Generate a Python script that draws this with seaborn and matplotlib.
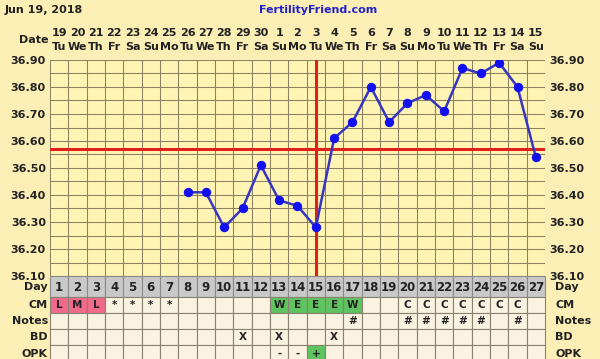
import matplotlib
matplotlib.use("Agg")
import matplotlib.pyplot as plt
import seaborn as sns
import pandas as pd
from matplotlib.patches import Rectangle

# ---- data ----
cycle_days = list(range(1, 28))
dates = [19, 20, 21, 22, 23, 24, 25, 26, 27, 28, 29, 30, 1, 2, 3, 4, 5, 6, 7, 8, 9, 10, 11, 12, 13, 14, 15]
weekdays = ["Tu", "We", "Th", "Fr", "Sa", "Su", "Mo"] * 4
temp_days = list(range(8, 28))
temps = [36.41, 36.41, 36.28, 36.35, 36.51, 36.38, 36.36, 36.28, 36.61, 36.67,
         36.80, 36.67, 36.74, 36.77, 36.71, 36.87, 36.85, 36.89, 36.80, 36.54]
coverline = 36.57
ovulation_day = 15
y_ticks = [36.10, 36.20, 36.30, 36.40, 36.50, 36.60, 36.70, 36.80, 36.90]
cm = {1: "L", 2: "M", 3: "L", 4: "*", 5: "*", 6: "*", 7: "*", 13: "W", 14: "E", 15: "E",
      16: "E", 17: "W", 20: "C", 21: "C", 22: "C", 23: "C", 24: "C", 25: "C", 26: "C"}
cm_colors = {"L": "#f06a8c", "M": "#f06a8c", "W": "#5fc35f", "E": "#5fc35f"}
notes = {17: "#", 20: "#", 21: "#", 22: "#", 23: "#", 24: "#", 26: "#"}
bd = {11: "X", 13: "X", 16: "X"}
opk = {13: "-", 14: "-", 15: "+"}
opk_colors = {"+": "#5fc35f"}
row_labels = ["Day", "CM", "Notes", "BD", "OPK"]

# ---- style ----
sns.set_style("white")
plt.rcParams["font.family"] = ["DejaVu Sans"]
outer_bg = "#fcefb6"
chart_bg = "#fff4b4"
cell_bg = "#fbf3e2"
grid_c = "#8a8260"
fs = 7.5

W, H = 600, 359
fig = plt.figure(figsize=(6, 3.59), dpi=100)
fig.patch.set_facecolor(outer_bg)

L, R = 50, 545
top, bot = 60, 276
ax = fig.add_axes([L / W, 1 - bot / H, (R - L) / W, (bot - top) / H])
ax.set_facecolor(chart_bg)
ax.set_xlim(0.5, 27.5)
ax.set_ylim(36.10, 36.90)

for x in [d + 0.5 for d in range(0, 28)]:
    ax.axvline(x, color=grid_c, lw=0.75, zorder=1)
for i in range(17):
    ax.axhline(36.10 + i * 0.05, color=grid_c, lw=0.75, zorder=1)

ax.axhline(coverline, color="#e0201c", lw=2.2, zorder=3)
ax.axvline(ovulation_day, color="#e0201c", lw=2.2, zorder=3)

df = pd.DataFrame({"day": temp_days, "temp": temps})
sns.lineplot(data=df, x="day", y="temp", ax=ax, color="#3636c0", lw=1.8,
             marker="o", markersize=6, markerfacecolor="#1010f0",
             markeredgecolor="#1010f0", zorder=4)

ax.set_xlabel("")
ax.set_ylabel("")
ax.set_xticks([])
ax.set_yticks(y_ticks)
ax.set_yticklabels([f"{v:.2f}" for v in y_ticks], fontsize=fs + 0.5, fontweight="bold", color="#222222")
ax.tick_params(axis="y", length=0, pad=3, labelright=True, labelleft=True, right=False, left=False)
for s in ax.spines.values():
    s.set_visible(False)

# ---- table ----
tax = fig.add_axes([L / W, 0, (R - L) / W, (H - bot) / H])
tax.set_xlim(0.5, 27.5)
tax.set_ylim(H, bot)
tax.axis("off")
rows = [276, 297.5, 313.5, 329.5, 345.5, 362]

for r in range(5):
    y0, y1 = rows[r], rows[r + 1]
    for d in cycle_days:
        fc = "#c9c9c9" if r == 0 else cell_bg
        txt = ""
        if r == 0:
            txt = str(d)
        elif r == 1 and d in cm:
            txt = cm[d]
            fc = cm_colors.get(txt, fc)
        elif r == 2 and d in notes:
            txt = notes[d]
        elif r == 3 and d in bd:
            txt = bd[d]
        elif r == 4 and d in opk:
            txt = opk[d]
            fc = opk_colors.get(txt, fc)
        tax.add_patch(Rectangle((d - 0.5, y0), 1, y1 - y0, facecolor=fc,
                                edgecolor="#8a8270" if r else "#8a8a8a", lw=0.8, clip_on=False))
        if txt:
            tax.text(d, (y0 + y1) / 2 + (0.5 if r == 0 else 0), txt, ha="center", va="center",
                     fontsize=fs + (1 if r == 0 else 0), fontweight="bold", color="#222222",
                     clip_on=False)
    yc = (y0 + y1) / 2
    fig.text(48 / W, 1 - yc / H, row_labels[r], ha="right", va="center",
             fontsize=fs + 0.5, fontweight="bold", color="#222222")
    fig.text(555 / W, 1 - yc / H, row_labels[r], ha="left", va="center",
             fontsize=fs + 0.5, fontweight="bold", color="#222222")

# ---- header ----
for d, dt, wd in zip(cycle_days, dates, weekdays):
    xf = (L + (d - 0.5) * (R - L) / 27) / W
    fig.text(xf, 1 - 33 / H, str(dt), ha="center", va="center", fontsize=fs + 0.5,
             fontweight="bold", color="#222222")
    fig.text(xf, 1 - 47 / H, wd, ha="center", va="center", fontsize=fs + 0.5,
             fontweight="bold", color="#222222")
fig.text(48 / W, 1 - 40 / H, "Date", ha="right", va="center", fontsize=fs + 0.5,
         fontweight="bold", color="#222222")
fig.text(5 / W, 1 - 10 / H, "Jun 19, 2018", ha="left", va="center", fontsize=fs + 0.5,
         fontweight="bold", color="#222222")
fig.text(318 / W, 1 - 10 / H, "FertilityFriend.com", ha="center", va="center", fontsize=fs + 0.5,
         fontweight="bold", color="#2222c8")

fig.savefig("out.png", dpi=100, facecolor=outer_bg)
